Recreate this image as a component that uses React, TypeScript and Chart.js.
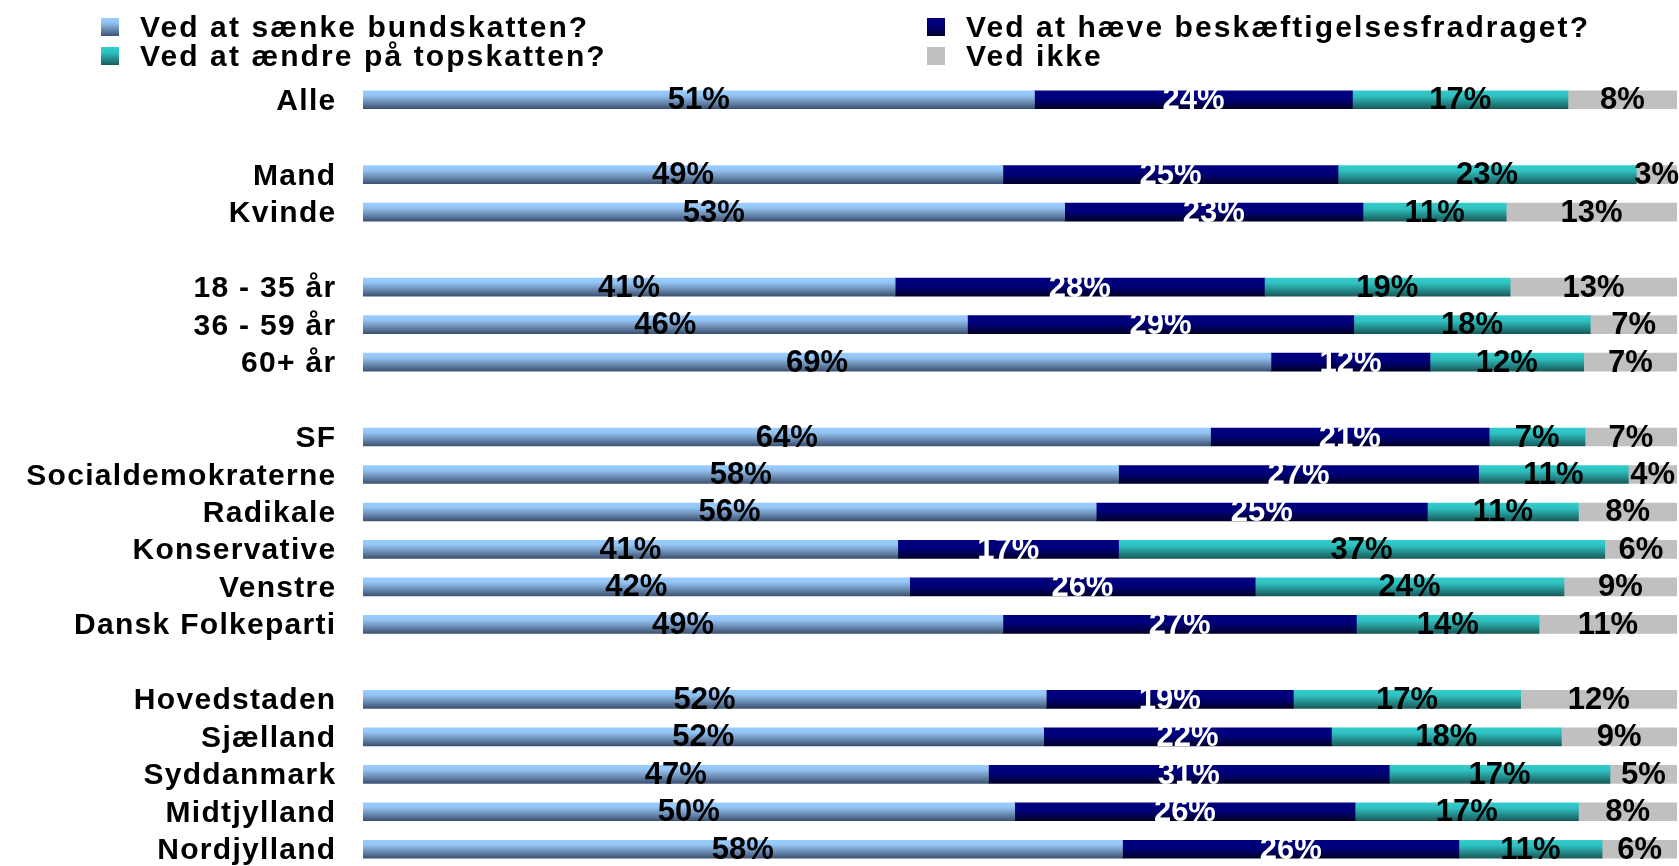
import React, { useEffect, useRef } from 'react';
import { Chart, registerables } from 'chart.js';

Chart.register(...registerables);

const categories = [
  'Alle', '',
  'Mand', 'Kvinde', '',
  '18 - 35 år', '36 - 59 år', '60+ år', '',
  'SF', 'Socialdemokraterne', 'Radikale', 'Konservative', 'Venstre', 'Dansk Folkeparti', '',
  'Hovedstaden', 'Sjælland', 'Syddanmark', 'Midtjylland', 'Nordjylland',
];

const seriesNames = [
  'Ved at sænke bundskatten?',
  'Ved at hæve beskæftigelsesfradraget?',
  'Ved at ændre på topskatten?',
  'Ved ikke',
];

// segment widths (share of each 100% bar)
const bundskat = [51.1, null, 48.7, 53.4, null, 40.5, 46.0, 69.1, null, 64.5, 57.5, 55.8, 40.7, 41.6, 48.7, null, 52.0, 51.8, 47.6, 49.6, 57.8];
const beskaeftigelse = [24.2, null, 25.5, 22.7, null, 28.1, 29.4, 12.1, null, 21.2, 27.4, 25.2, 16.8, 26.3, 26.9, null, 18.8, 21.9, 30.5, 25.9, 25.6];
const topskat = [16.4, null, 22.7, 10.9, null, 18.7, 18.0, 11.7, null, 7.3, 11.4, 11.5, 37.0, 23.5, 13.9, null, 17.3, 17.5, 16.8, 17.0, 10.9];
const vedIkke = [8.3, null, 3.1, 13.0, null, 12.7, 6.6, 7.1, null, 7.0, 3.7, 7.5, 5.5, 8.6, 10.5, null, 11.9, 8.8, 5.1, 7.5, 5.7];

// printed percentages
const bundskatLabels = [51, null, 49, 53, null, 41, 46, 69, null, 64, 58, 56, 41, 42, 49, null, 52, 52, 47, 50, 58];
const beskaeftigelseLabels = [24, null, 25, 23, null, 28, 29, 12, null, 21, 27, 25, 17, 26, 27, null, 19, 22, 31, 26, 26];
const topskatLabels = [17, null, 23, 11, null, 19, 18, 12, null, 7, 11, 11, 37, 24, 14, null, 17, 18, 17, 17, 11];
const vedIkkeLabels = [8, null, 3, 13, null, 13, 7, 7, null, 7, 4, 8, 6, 9, 11, null, 12, 9, 5, 8, 6];

const FONT = '"Liberation Sans", Arial, Helvetica, sans-serif';

type Stops = [number, string][];
const lightBlue: Stops = [[0, '#9acdff'], [0.25, '#93c4f4'], [0.6, '#6f91b8'], [1, '#3c5272']];
const navy: Stops = [[0, '#000080'], [0.45, '#00007a'], [1, '#00002a']];
const teal: Stops = [[0, '#33cccc'], [0.3, '#2fc0c0'], [1, '#195a5a']];
const grey: Stops = [[0, '#c0c0c0'], [1, '#c0c0c0']];

const HALF = 9;

function makeGrad(ctx: CanvasRenderingContext2D, top: number, bottom: number, stops: Stops) {
  const g = ctx.createLinearGradient(0, top, 0, bottom);
  stops.forEach(([o, c]) => g.addColorStop(o, c));
  return g;
}

function barFill(stops: Stops) {
  return (c: any) => {
    const chart = c.chart;
    const ys = chart.scales && chart.scales.y;
    if (c.type !== 'data' || !ys) return stops[0][1];
    const y = ys.getPixelForValue(c.dataIndex);
    if (!Number.isFinite(y)) return stops[0][1];
    return makeGrad(chart.ctx, y - HALF, y + HALF, stops);
  };
}

const overlayPlugin = {
  id: 'overlay',
  afterDatasetsDraw(chart: any) {
    const ctx: CanvasRenderingContext2D = chart.ctx;
    const ys = chart.scales.y;
    ctx.save();
    // category labels
    ctx.font = `bold 30px ${FONT}`;
    (ctx as any).letterSpacing = '1.3px';
    ctx.fillStyle = '#000';
    ctx.textAlign = 'right';
    ctx.textBaseline = 'alphabetic';
    chart.data.labels.forEach((lab: string, i: number) => {
      if (!lab) return;
      const y = ys.getPixelForValue(i);
      ctx.fillText(lab, 336.5, y + 10);
    });
    // data labels
    ctx.font = `bold 31px ${FONT}`;
    (ctx as any).letterSpacing = '0px';
    ctx.textAlign = 'center';
    chart.data.datasets.forEach((ds: any, di: number) => {
      const meta = chart.getDatasetMeta(di);
      meta.data.forEach((el: any, i: number) => {
        const t = ds.pctLabels[i];
        if (t == null || ds.data[i] == null) return;
        const cx = (el.x + el.base) / 2;
        ctx.fillStyle = ds.labelColor;
        ctx.fillText(`${t}%`, cx, el.y + 9.5);
      });
    });
    // legend (2 x 2)
    ctx.font = `bold 30px ${FONT}`;
    (ctx as any).letterSpacing = '2.1px';
    ctx.textAlign = 'left';
    const cols = [101, 927];
    const rows = [18, 47];
    const order = [0, 2, 1, 3];
    order.forEach((di, k) => {
      const ds = chart.data.datasets[di];
      const col = cols[Math.floor(k / 2)];
      const row = rows[k % 2];
      ctx.fillStyle = makeGrad(ctx, row, row + 18, ds.legendStops);
      ctx.fillRect(col, row, 18, 18);
      ctx.fillStyle = '#000';
      ctx.fillText(ds.label, col + 39, row + 19);
    });
    ctx.restore();
  },
};

export default function App() {
  const ref = useRef<HTMLCanvasElement>(null);
  useEffect(() => {
    document.body.style.margin = '0';
    document.body.style.overflow = 'hidden';
    const datasets: any[] = [
      { label: seriesNames[0], data: bundskat, pctLabels: bundskatLabels, labelColor: '#000', legendStops: lightBlue, backgroundColor: barFill(lightBlue) },
      { label: seriesNames[1], data: beskaeftigelse, pctLabels: beskaeftigelseLabels, labelColor: '#fff', legendStops: navy, backgroundColor: barFill(navy) },
      { label: seriesNames[2], data: topskat, pctLabels: topskatLabels, labelColor: '#000', legendStops: teal, backgroundColor: barFill(teal) },
      { label: seriesNames[3], data: vedIkke, pctLabels: vedIkkeLabels, labelColor: '#000', legendStops: grey, backgroundColor: barFill(grey) },
    ];
    const chart = new Chart(ref.current as HTMLCanvasElement, {
      type: 'bar',
      data: { labels: categories, datasets },
      options: {
        indexAxis: 'y',
        responsive: false,
        animation: false,
        maintainAspectRatio: false,
        layout: { padding: { left: 363, right: 2, top: 81, bottom: 2 } },
        datasets: { bar: { barThickness: 18, borderWidth: 0 } },
        scales: {
          x: { stacked: true, min: 0, max: 100, display: false },
          y: { stacked: true, display: false },
        },
        plugins: { legend: { display: false }, tooltip: { enabled: false } },
      },
      plugins: [overlayPlugin],
    } as any);
    return () => chart.destroy();
  }, []);
  return (
    <div style={{ position: 'fixed', left: 0, top: 0, width: 1679, height: 870, background: '#fff' }}>
      <canvas ref={ref} width={1679} height={870} style={{ width: 1679, height: 870, display: 'block' }} />
    </div>
  );
}
